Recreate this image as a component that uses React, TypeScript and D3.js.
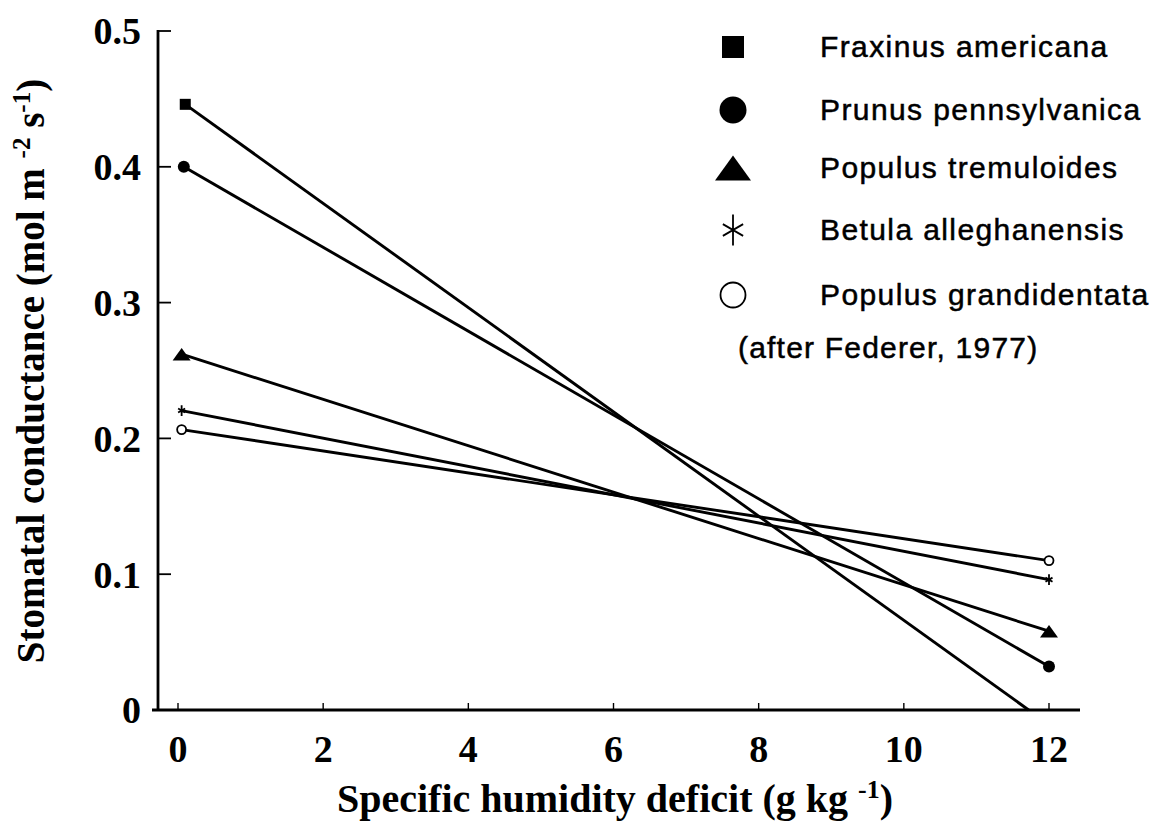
import React from "react";
import * as d3 from "d3";

const species = [
  "Fraxinus americana",
  "Prunus pennsylvanica",
  "Populus tremuloides",
  "Betula alleghanensis",
  "Populus grandidentata",
];
const markerTypes = ["square", "circle", "triangle", "star", "open"];
// endpoints of each fitted line: [x, y] (x = specific humidity deficit, y = conductance)
const fraxinus = [[0.1, 0.446], [11.72, 0]];
const prunus = [[0.08, 0.4], [12, 0.032]];
const popTrem = [[0.05, 0.262], [12, 0.058]];
const betula = [[0.05, 0.2205], [12, 0.096]];
const popGrand = [[0.05, 0.2065], [12, 0.11]];
const seriesData = [fraxinus, prunus, popTrem, betula, popGrand];
// whether end point carries a marker
const endMarker = [false, true, true, true, true];
const xTicks = [0, 2, 4, 6, 8, 10, 12];
const yTicks = [0, 0.1, 0.2, 0.3, 0.4, 0.5];
const yTickLabels = ["0", "0.1", "0.2", "0.3", "0.4", "0.5"];
const credit = "(after Federer, 1977)";

const W = 1161;
const H = 827;

function Marker({ type, x, y, s }: { type: string; x: number; y: number; s: number }) {
  if (type === "square") {
    return <rect x={x - s / 2} y={y - s / 2} width={s} height={s} fill="#000" />;
  }
  if (type === "circle") {
    return <circle cx={x} cy={y} r={s / 2} fill="#000" />;
  }
  if (type === "open") {
    return <circle cx={x} cy={y} r={s / 2 - 1} fill="#fff" stroke="#000" strokeWidth={1.8} />;
  }
  if (type === "triangle") {
    const p = d3.path();
    p.moveTo(x, y - s * 0.42);
    p.lineTo(x + s * 0.6, y + s * 0.42);
    p.lineTo(x - s * 0.6, y + s * 0.42);
    p.closePath();
    return <path d={p.toString()} fill="#000" />;
  }
  // star: asterisk with six arms
  const r = s / 2;
  const p = d3.path();
  [90, 30, -30].forEach((a) => {
    const rad = (a * Math.PI) / 180;
    const dx = Math.cos(rad) * r * (a === 90 ? 1 : 0.9);
    const dy = Math.sin(rad) * r * (a === 90 ? 1.2 : 0.9);
    p.moveTo(x - dx, y - dy);
    p.lineTo(x + dx, y + dy);
  });
  return <path d={p.toString()} stroke="#000" strokeWidth={1.8} fill="none" />;
}

export default function App() {
  const x = d3.scaleLinear().domain([0, 12]).range([178, 1049]);
  const y = d3.scaleLinear().domain([0, 0.5]).range([710, 31]);
  const line = d3
    .line<number[]>()
    .x((d) => x(d[0]))
    .y((d) => y(d[1]));

  const serif = "'Liberation Serif', 'Times New Roman', serif";
  const sans = "'Liberation Sans', Arial, Helvetica, sans-serif";

  const legendY = [47, 110, 168, 230, 295];
  const legendMarkerSize = [22, 27, 30, 26, 27];
  const plotMarkerSize = [11, 12, 15, 9, 11];

  return (
    <svg
      width={W}
      height={H}
      style={{ position: "absolute", left: 0, top: 0, background: "#fff" }}
    >
      <rect x={0} y={0} width={W} height={H} fill="#fff" />
      {/* axes */}
      <line x1={158} x2={158} y1={y(0.5) - 1} y2={y(0)} stroke="#000" strokeWidth={2.8} />
      <line x1={152} x2={1080} y1={y(0)} y2={y(0)} stroke="#000" strokeWidth={3.2} />
      {yTicks.map((t, i) => (
        <g key={"yt" + i}>
          {t > 0 && (
            <line x1={158} x2={171} y1={y(t)} y2={y(t)} stroke="#000" strokeWidth={1.8} />
          )}
          <text
            x={141}
            y={y(t)}
            dy="0.35em"
            textAnchor="end"
            fontFamily={serif}
            fontWeight="bold"
            fontSize={38}
          >
            {yTickLabels[i]}
          </text>
        </g>
      ))}
      {xTicks.map((t, i) => (
        <g key={"xt" + i}>
          <line x1={x(t)} x2={x(t)} y1={y(0)} y2={y(0) - 7} stroke="#000" strokeWidth={1.4} />
          <text
            x={x(t)}
            y={762}
            textAnchor="middle"
            fontFamily={serif}
            fontWeight="bold"
            fontSize={38}
          >
            {t}
          </text>
        </g>
      ))}
      {/* axis titles */}
      <text
        x={615}
        y={812}
        textAnchor="middle"
        fontFamily={serif}
        fontWeight="bold"
        fontSize={40}
      >
        Specific humidity deficit (g kg{" "}
        <tspan dy={-14} fontSize={26}>-1</tspan>
        <tspan dy={14}>)</tspan>
      </text>
      <text
        transform="translate(44,371) rotate(-90)"
        textAnchor="middle"
        fontFamily={serif}
        fontWeight="bold"
        fontSize={39}
      >
        Stomatal conductance (mol m{" "}
        <tspan dy={-14} fontSize={25}>-2</tspan>
        <tspan dy={14}> s</tspan>
        <tspan dy={-14} fontSize={25}>-1</tspan>
        <tspan dy={14}>)</tspan>
      </text>
      {/* lines */}
      {seriesData.map((d, i) => (
        <path key={"l" + i} d={line(d) || ""} fill="none" stroke="#000" strokeWidth={2.9} />
      ))}
      {/* markers */}
      {seriesData.map((d, i) => (
        <g key={"m" + i}>
          <Marker type={markerTypes[i]} x={x(d[0][0])} y={y(d[0][1])} s={plotMarkerSize[i]} />
          {endMarker[i] && (
            <Marker type={markerTypes[i]} x={x(d[1][0])} y={y(d[1][1])} s={plotMarkerSize[i]} />
          )}
        </g>
      ))}
      {/* legend */}
      {species.map((s, i) => (
        <g key={"lg" + i}>
          <Marker type={markerTypes[i]} x={733} y={legendY[i]} s={legendMarkerSize[i]} />
          <text
            x={820}
            y={legendY[i] + 10}
            fontFamily={sans}
            fontSize={30}
            letterSpacing={1.4}
            stroke="#000"
            strokeWidth={0.5}
          >
            {s}
          </text>
        </g>
      ))}
      <text
        x={738}
        y={358}
        fontFamily={sans}
        fontSize={30}
        letterSpacing={1.2}
        stroke="#000"
        strokeWidth={0.5}
      >
        {credit}
      </text>
    </svg>
  );
}
